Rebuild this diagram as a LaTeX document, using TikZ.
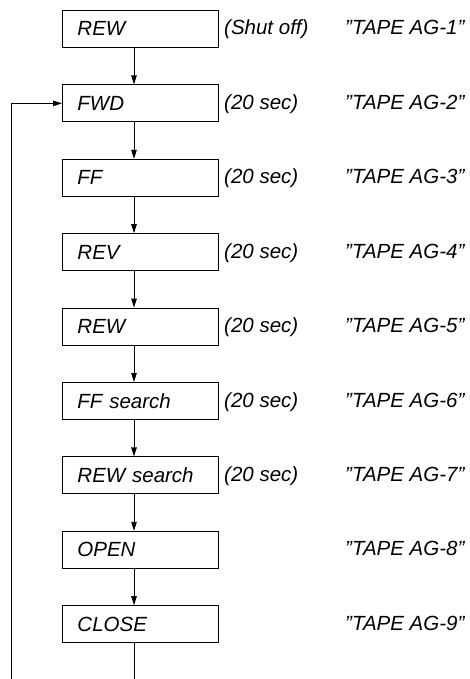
\documentclass[tikz,border=0pt]{standalone}
\usepackage{fontspec}
\setmainfont[Ligatures=NoCommon]{Liberation Sans}
\usetikzlibrary{arrows.meta}
\tikzset{
  stepbox/.style={draw, line width=0.9pt, anchor=north west, minimum width=156pt, minimum height=37pt,
    text width=126pt, inner xsep=15pt, inner ysep=0pt, align=left, font=\fontsize{20.5}{22}\selectfont\itshape},
  lbl/.style={anchor=base west, inner sep=0pt, font=\fontsize{20.5}{22}\selectfont\itshape},
  conn/.style={line width=0.9pt},
  arr/.style={line width=0.9pt, -{Triangle[length=9pt,width=5.5pt]}}
}
\newcommand{\dq}{\symbol{34}}
\begin{document}
\begin{tikzpicture}[x=1pt,y=-1pt]
\useasboundingbox (0,0) rectangle (470,679);
\coordinate (ax) at (134,0);
\foreach \n/\t/\d/\g [count=\k from 0] in {
  b1/REW/(Shut off)/1, b2/FWD/(20 sec)/2, b3/FF/(20 sec)/3, b4/REV/(20 sec)/4,
  b5/REW/(20 sec)/5, b6/FF search/(20 sec)/6, b7/REW search/(20 sec)/7,
  b8/OPEN//8, b9/CLOSE//9}{
  \pgfmathsetmacro{\top}{10+74.4*\k}
  \pgfmathsetmacro{\base}{28.5+74.4*\k+6.5}
  \node[stepbox] (\n) at (62,\top) {\t};
  \node[lbl] (d\g) at (224,\base) {\d};
  \node[lbl] (t\g) at (345,\base) {\dq TAPE AG-\g\dq};
}
\foreach \a/\b in {b1/b2,b2/b3,b3/b4,b4/b5,b5/b6,b6/b7,b7/b8,b8/b9}{
  \draw[arr] (\a.south -| ax) -- (\b.north -| ax);
}
\coordinate (cb) at (134,679);
\coordinate (lb) at (11,679);
\draw[conn] (b9.south -| ax) -- (cb);
\draw[arr] (lb) |- (b2.west);
\end{tikzpicture}
\end{document}
